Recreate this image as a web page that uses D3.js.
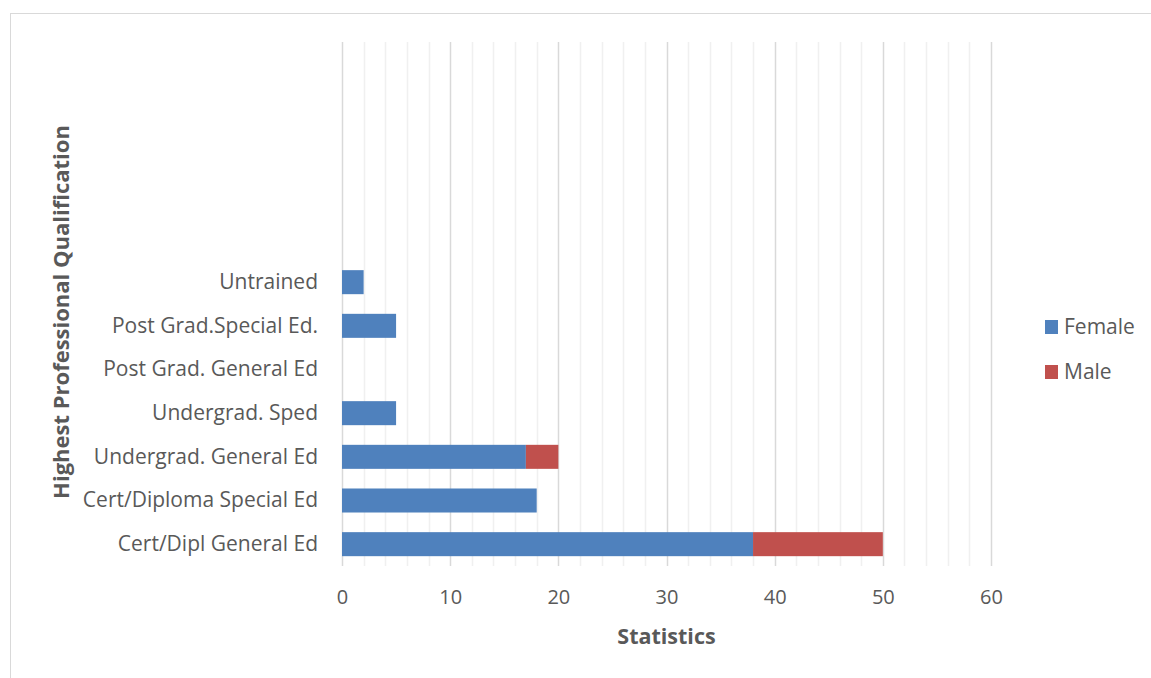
<!DOCTYPE html>
<html>
<head>
<meta charset="utf-8">
<script src="https://cdn.jsdelivr.net/npm/d3@7"></script>
<style>
  html, body { margin: 0; padding: 0; background: #fff; }
  svg { display: block; }
  text { font-family: "Open Sans", "Liberation Sans", sans-serif; }
</style>
</head>
<body>
<svg id="chart" width="1151" height="678"></svg>
<script>
// Qualification categories, bottom to top (blank slots keep the upper space empty)
const categories = [
  "Cert/Dipl General Ed",
  "Cert/Diploma Special Ed",
  "Undergrad. General Ed",
  "Undergrad. Sped",
  "Post Grad. General Ed",
  "Post Grad.Special Ed.",
  "Untrained",
  "", " ", "  ", "   ", "    "
];
const female = [38, 18, 17, 5, 0, 5, 2, 0, 0, 0, 0, 0];
const male   = [12, 0, 3, 0, 0, 0, 0, 0, 0, 0, 0, 0];
const seriesNames = ["Female", "Male"];
const seriesColors = ["#4f81bd", "#c0504d"];
const xTicks = [0, 10, 20, 30, 40, 50, 60];
const xMinorTicks = d3.range(0, 61, 2);

const svg = d3.select("#chart");

// outer chart frame
svg.append("rect")
  .attr("x", 10.5).attr("y", 13.5)
  .attr("width", 1160).attr("height", 700)
  .attr("fill", "#fff").attr("stroke", "#d9d9d9").attr("stroke-width", 1);

const plot = { left: 342, right: 991, top: 42, bottom: 566 };

const x = d3.scaleLinear().domain([0, 60]).range([plot.left, plot.right]);
const y = d3.scaleBand()
  .domain(categories)
  .range([plot.bottom, plot.top])
  .paddingInner(0.45).paddingOuter(0.225);

// minor gridlines
svg.append("g")
  .selectAll("line")
  .data(xMinorTicks.filter(v => v % 10 !== 0))
  .join("line")
  .attr("x1", d => Math.round(x(d)) + 0.5).attr("x2", d => Math.round(x(d)) + 0.5)
  .attr("y1", plot.top).attr("y2", plot.bottom)
  .attr("stroke", "#f0f0f0").attr("stroke-width", 1.5);

// major gridlines
svg.append("g")
  .selectAll("line")
  .data(xTicks)
  .join("line")
  .attr("x1", d => Math.round(x(d)) + 0.5).attr("x2", d => Math.round(x(d)) + 0.5)
  .attr("y1", plot.top).attr("y2", plot.bottom)
  .attr("stroke", "#d9d9d9").attr("stroke-width", 1.5);

// stacked bars
const rows = categories.map((c, i) => ({ cat: c, Female: female[i], Male: male[i] }));
const stack = d3.stack().keys(seriesNames)(rows);

svg.append("g")
  .selectAll("g")
  .data(stack)
  .join("g")
  .attr("fill", (d, i) => seriesColors[i])
  .selectAll("rect")
  .data(d => d.filter(p => p[1] - p[0] > 0))
  .join("rect")
  .attr("x", d => x(d[0]))
  .attr("width", d => x(d[1]) - x(d[0]))
  .attr("y", d => y(d.data.cat))
  .attr("height", y.bandwidth());

// x axis labels
const xAxis = d3.axisBottom(x).tickValues(xTicks).tickSize(0).tickPadding(24);
const gx = svg.append("g").attr("transform", `translate(0,${plot.bottom})`).call(xAxis);
gx.select(".domain").remove();
gx.selectAll("text").attr("fill", "#595959").style("font-size", "20px")
  .style("font-family", '"Open Sans", sans-serif');

// y axis labels
const yAxis = d3.axisLeft(y).tickSize(0).tickPadding(24);
const gy = svg.append("g").attr("transform", `translate(${plot.left},0)`).call(yAxis);
gy.select(".domain").remove();
gy.selectAll("text").attr("fill", "#595959").style("font-size", "21px")
  .style("font-family", '"Open Sans", sans-serif');

// axis titles
svg.append("text")
  .attr("x", (plot.left + plot.right) / 2).attr("y", 644)
  .attr("text-anchor", "middle")
  .attr("fill", "#595959").attr("font-weight", "bold").style("font-size", "21.5px")
  .text("Statistics");

svg.append("text")
  .attr("transform", `translate(69,${(plot.top + plot.bottom) / 2 + 8}) rotate(-90)`)
  .attr("text-anchor", "middle")
  .attr("fill", "#595959").attr("font-weight", "bold").style("font-size", "22px")
  .text("Highest Professional Qualification");

// legend
const legend = svg.append("g").attr("transform", "translate(1045,327)");
seriesNames.forEach((name, i) => {
  const g = legend.append("g").attr("transform", `translate(0,${i * 45})`);
  g.append("rect").attr("x", 0).attr("y", -7).attr("width", 13).attr("height", 14)
    .attr("fill", seriesColors[i]);
  g.append("text").attr("x", 19).attr("y", 0).attr("dy", "0.35em")
    .attr("fill", "#595959").style("font-size", "21px").text(name);
});
</script>
</body>
</html>
